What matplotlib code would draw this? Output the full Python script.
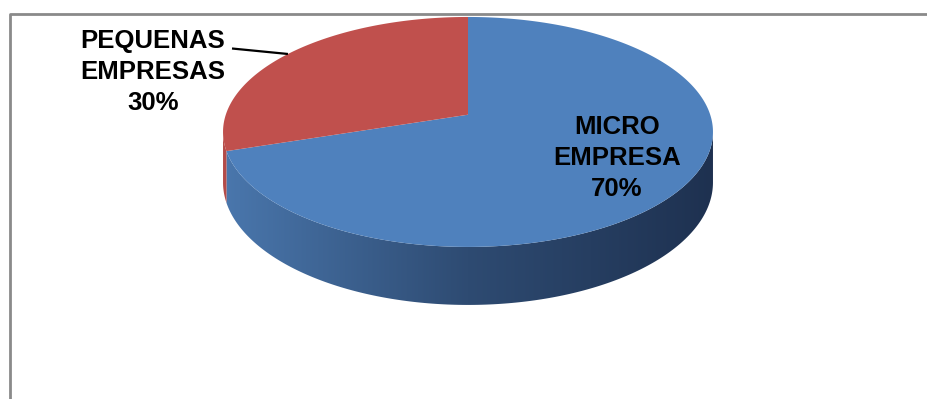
import numpy as np
import matplotlib
matplotlib.use('Agg')
import matplotlib.pyplot as plt
from matplotlib.patches import Polygon
from matplotlib.colors import LinearSegmentedColormap

# data
labels = ['MICRO\nEMPRESA', 'PEQUENAS\nEMPRESAS']
values = [70, 30]
top_colors = ['#4f81bd', '#c0504d']
side_colors = [['#4a77ad', '#2e4b72', '#1e3150'], ['#b54c49', '#a8433f', '#8f3835']]

# pie geometry (pixels), light perspective
CX, CY = 468, 114.7
A, B = 242.2, 112.4
K = 0.15
D = 49.3


def proj(theta, drop=0.0):
    t = np.radians(theta)
    w = 1 + K * np.sin(t)
    x = CX + A * np.cos(t) / w
    y = CY - B * np.sin(t) / w + drop / w
    return x, y


fig = plt.figure(figsize=(9.28, 3.99), dpi=100)
ax = fig.add_axes([0, 0, 1, 1])
ax.axis('off')

total = float(sum(values))
front_lo = -180 + np.degrees(np.arcsin(K))
front_hi = -np.degrees(np.arcsin(K))

# slice angle ranges, starting at 12 o'clock, clockwise
ranges = []
cum = 0.0
for v in values:
    t0 = 90 - (cum + v) / total * 360
    t1 = 90 - cum / total * 360
    ranges.append((t0, t1))
    cum += v

# sides
for (t0, t1), cols in zip(ranges, side_colors):
    s0, s1 = max(t0, front_lo), min(t1, front_hi)
    if s1 <= s0:
        continue
    th = np.linspace(s0, s1, 200)
    xt, yt = proj(th)
    xb, yb = proj(th[::-1], D)
    pts = np.column_stack([np.concatenate([xt, xb]), np.concatenate([yt, yb])])
    poly = Polygon(pts, closed=True, transform=ax.transData)
    cmap = LinearSegmentedColormap.from_list('side', cols)
    grad = np.linspace(0, 1, 256).reshape(1, -1)
    im = ax.imshow(grad, cmap=cmap, aspect='auto', interpolation='bilinear',
                   extent=[CX - 246, CX + 246, 320, 100])
    im.set_clip_path(poly)

# tops
for (t0, t1), c in zip(ranges, top_colors):
    th = np.linspace(t0, t1, 300)
    xt, yt = proj(th)
    pts = np.column_stack([np.concatenate([[CX], xt]), np.concatenate([[CY], yt])])
    ax.add_patch(Polygon(pts, closed=True, facecolor=c, edgecolor='none'))

font = dict(family=['Liberation Sans', 'DejaVu Sans'], fontsize=18.5,
            fontweight='bold', color='black', ha='center', va='center',
            linespacing=1.37)
pct = [f'{v / total * 100:.0f}%' for v in values]

ax.text(617, 158, f'{labels[0]}\n{pct[0]}', **font)
ax.text(153, 72, f'{labels[1]}\n{pct[1]}', **font)

# leader line for the small slice
mid = (ranges[1][0] + ranges[1][1]) / 2
lx, ly = proj(mid)
ax.plot([232, lx], [48.5, ly], color='black', lw=1.6, solid_capstyle='butt')

# chart frame
ax.plot([10, 10, 930], [402, 14, 14], color='#8a8a8a', lw=2)

ax.set_xlim(0, 928)
ax.set_ylim(399, 0)
fig.savefig('out.png', dpi=100, facecolor='white')
